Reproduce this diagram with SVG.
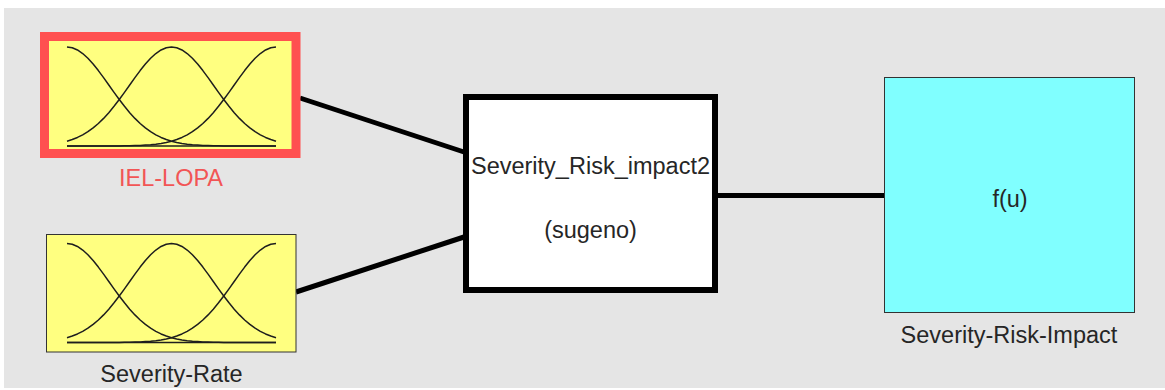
<svg xmlns="http://www.w3.org/2000/svg" xmlns:xlink="http://www.w3.org/1999/xlink" width="1165" height="390" viewBox="0 0 1165 390">
<style>
  text { font-family: "Liberation Sans", Arial, Helvetica, sans-serif; font-size: 23.5px; fill: #262626; text-anchor: middle; }
  .mf { fill: none; stroke: #1e1e1e; stroke-width: 1.5; stroke-linejoin: round; }
  .conn { stroke: #000; stroke-width: 5; fill: none; }
  .inbox { fill: #ffff80; }
</style>
<defs>
  <g id="mfs">
    <path class="mf" d="M67,47 L72.23,47.75 77.45,49.95 82.68,53.51 87.9,58.28 93.13,64.04 98.35,70.58 103.58,77.64 108.8,84.96 114.03,92.32 119.25,99.5 124.48,106.33 129.7,112.66 134.93,118.4 140.15,123.49 145.38,127.92 150.6,131.7 155.83,134.86 161.05,137.44 166.28,139.53 171.5,141.18 176.73,142.47 181.95,143.45 187.18,144.18 192.4,144.73 197.63,145.12 202.85,145.4 208.08,145.6 213.3,145.74 218.53,145.83 223.75,145.89 276,146"/>
    <path class="mf" d="M67,141.18 L72.23,139.53 77.45,137.44 82.68,134.86 87.9,131.7 93.13,127.92 98.35,123.49 103.58,118.4 108.8,112.66 114.03,106.33 119.25,99.5 124.48,92.32 129.7,84.96 134.93,77.64 140.15,70.58 145.38,64.04 150.6,58.28 155.83,53.51 161.05,49.95 166.28,47.75 171.5,47 176.73,47.75 181.95,49.95 187.18,53.51 192.4,58.28 197.63,64.04 202.85,70.58 208.08,77.64 213.3,84.96 218.53,92.32 223.75,99.5 228.98,106.33 234.2,112.66 239.43,118.4 244.65,123.49 249.88,127.92 255.1,131.7 260.33,134.86 265.55,137.44 270.78,139.53 276,141.18"/>
    <path class="mf" d="M67,146 L119.25,145.89 124.48,145.83 129.7,145.74 134.93,145.6 140.15,145.4 145.38,145.12 150.6,144.73 155.83,144.18 161.05,143.45 166.28,142.47 171.5,141.18 176.73,139.53 181.95,137.44 187.18,134.86 192.4,131.7 197.63,127.92 202.85,123.49 208.08,118.4 213.3,112.66 218.53,106.33 223.75,99.5 228.98,92.32 234.2,84.96 239.43,77.64 244.65,70.58 249.88,64.04 255.1,58.28 260.33,53.51 265.55,49.95 270.78,47.75 276,47"/>
    <path class="mf" d="M67,146 H276"/>
  </g>
</defs>
<rect x="0" y="0" width="1165" height="390" fill="#ffffff"/>
<rect x="4" y="8" width="1161" height="380" fill="#e5e5e5"/>
<g id="connectors">
  <line class="conn" x1="300" y1="98" x2="464" y2="152"/>
  <line class="conn" x1="296" y1="292" x2="464" y2="237"/>
  <line class="conn" x1="716" y1="195.5" x2="885" y2="195.5"/>
</g>
<g id="IEL-LOPA">
  <rect x="44.5" y="36.5" width="251.5" height="117" class="inbox" stroke="#ff5050" stroke-width="9"/>
  <use xlink:href="#mfs"/>
  <text x="171" y="185.5" style="fill:#f25555">IEL-LOPA</text>
</g>
<g id="Severity-Rate">
  <rect x="46.5" y="234.5" width="249.5" height="117.5" class="inbox" stroke="#333" stroke-width="1"/>
  <use xlink:href="#mfs" transform="translate(0,196.5)"/>
  <text x="171.5" y="382">Severity-Rate</text>
</g>
<g id="Severity_Risk_impact2">
  <rect x="466" y="97" width="249" height="193" fill="#ffffff" stroke="#000" stroke-width="6"/>
  <text x="590.5" y="174">Severity_Risk_impact2</text>
  <text x="590.5" y="238">(sugeno)</text>
</g>
<g id="Severity-Risk-Impact">
  <rect x="884.5" y="77.5" width="250" height="235" fill="#80ffff" stroke="#333" stroke-width="1"/>
  <text x="1010" y="207">f(u)</text>
  <text x="1009" y="343">Severity-Risk-Impact</text>
</g>
</svg>
